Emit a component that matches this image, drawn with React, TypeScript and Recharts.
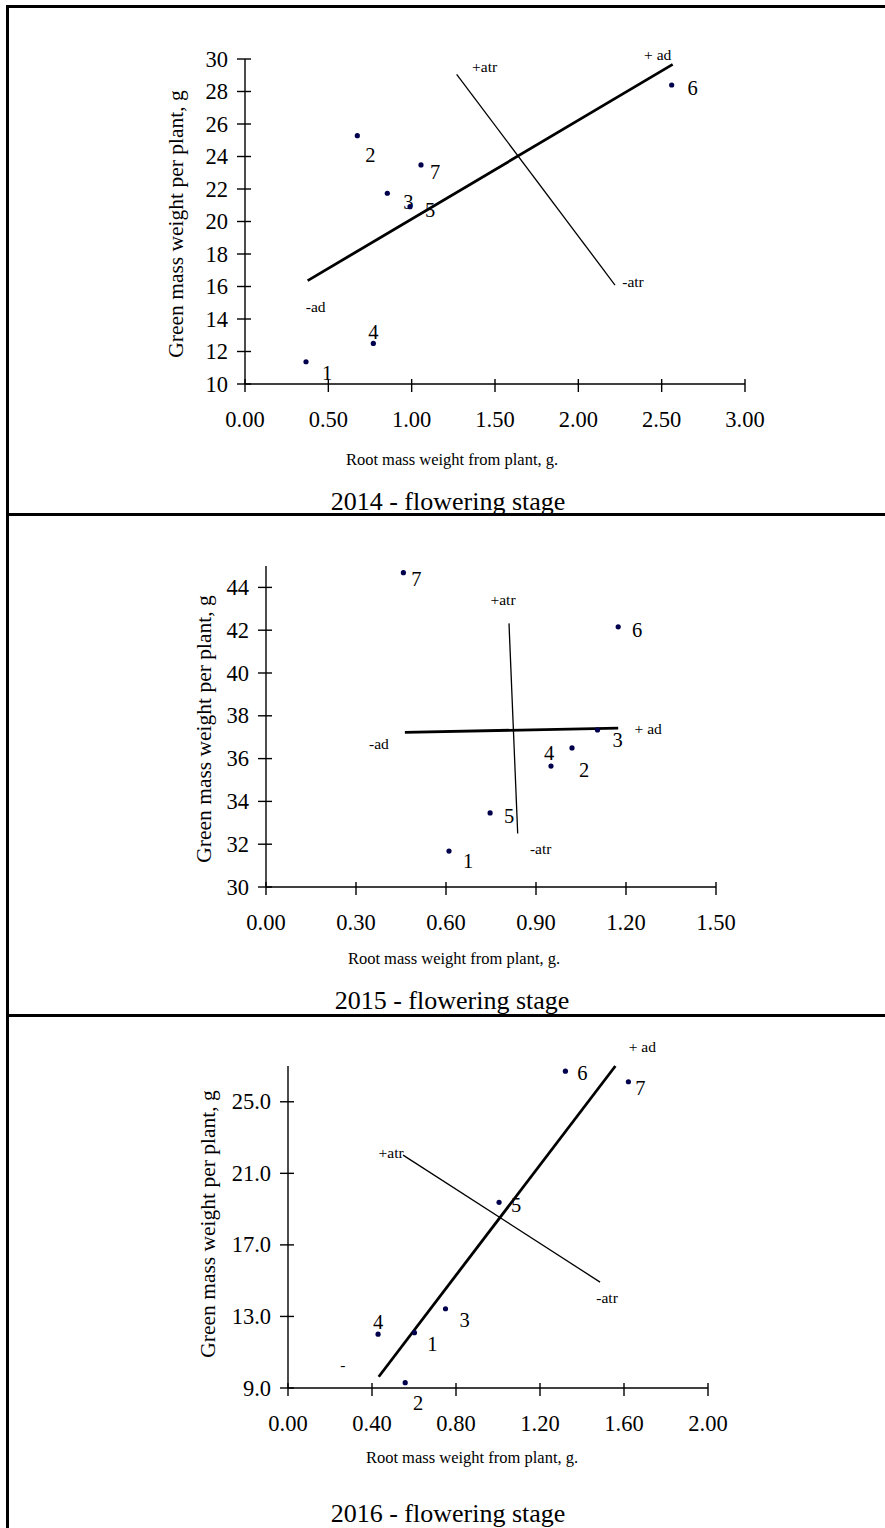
import React from 'react';
import { ScatterChart, Scatter, XAxis, YAxis } from 'recharts';

const FONT = "'Liberation Serif','Times New Roman',Times,serif";

// ---------- data ----------
const pointNames = ['1', '2', '3', '4', '5', '6', '7'];

// 2014
const x2014 = [0.366, 0.674, 0.854, 0.77, 0.99, 2.56, 1.056];
const y2014 = [11.37, 25.28, 21.74, 12.5, 20.91, 28.4, 23.48];
const ad2014 = [{ x: 0.376, y: 16.36, tag: '-ad' }, { x: 2.566, y: 29.67, tag: '+ ad' }];
const atr2014 = [{ x: 1.27, y: 29.06, tag: '+atr' }, { x: 2.22, y: 16.09, tag: '-atr' }];
const xTicks2014 = [0, 0.5, 1, 1.5, 2, 2.5, 3];
const yTicks2014 = [10, 12, 14, 16, 18, 20, 22, 24, 26, 28, 30];

// 2015
const x2015 = [0.61, 1.02, 1.105, 0.95, 0.747, 1.174, 0.458];
const y2015 = [31.68, 36.5, 37.34, 35.65, 33.46, 42.16, 44.69];
const ad2015 = [{ x: 0.463, y: 37.23, tag: '-ad' }, { x: 1.174, y: 37.42, tag: '+ ad' }];
const atr2015 = [{ x: 0.81, y: 42.32, tag: '+atr' }, { x: 0.839, y: 32.5, tag: '-atr' }];
const xTicks2015 = [0, 0.3, 0.6, 0.9, 1.2, 1.5];
const yTicks2015 = [30, 32, 34, 36, 38, 40, 42, 44];

// 2016
const x2016 = [0.602, 0.558, 0.75, 0.429, 1.005, 1.321, 1.621];
const y2016 = [12.09, 9.3, 13.43, 12.01, 19.38, 26.71, 26.12];
const ad2016 = [{ x: 0.432, y: 9.63, tag: '-' }, { x: 1.559, y: 27.0, tag: '+ ad' }];
const atr2016 = [{ x: 0.548, y: 22.02, tag: '+atr' }, { x: 1.486, y: 14.92, tag: '-atr' }];
const xTicks2016 = [0, 0.4, 0.8, 1.2, 1.6, 2.0];
const yTicks2016 = [9, 13, 17, 21, 25];

const xTitle = 'Root mass weight from plant, g.';
const yTitle = 'Green mass weight per plant, g';
const panelTitles = ['2014 - flowering stage', '2015 - flowering stage', '2016 - flowering stage'];

const build = (xs: number[], ys: number[]) => pointNames.map((n, i) => ({ name: n, x: xs[i], y: ys[i] }));

// ---------- styles (label offsets in px) ----------
const off2014: Record<string, [number, number]> = {
  '1': [21, 11], '2': [13, 19], '3': [21, 9], '4': [0, -11], '5': [20, 3], '6': [21, 3], '7': [14, 7],
};
const lineOff2014: Record<string, [number, number]> = {
  '-ad': [8, 26], '+ ad': [-15, -10], '+atr': [28, -8], '-atr': [18, -4],
};
const off2015: Record<string, [number, number]> = {
  '1': [19, 10], '2': [12, 22], '3': [20, 10], '4': [-2, -13], '5': [19, 3], '6': [19, 3], '7': [13, 6],
};
const lineOff2015: Record<string, [number, number]> = {
  '-ad': [-26, 11], '+ ad': [30, 0], '+atr': [-6, -24], '-atr': [23, 15],
};
const off2016: Record<string, [number, number]> = {
  '1': [18, 11], '2': [13, 20], '3': [19, 11], '4': [0, -12], '5': [17, 3], '6': [17, 2], '7': [12, 6],
};
const lineOff2016: Record<string, [number, number]> = {
  '-': [-36, -12], '+ ad': [27, -20], '+atr': [-12, -3], '-atr': [7, 15],
};

const X_AXIS_H = 40;
const Y_AXIS_W = 60;
const TICK_FONT = 22.5;

const makeXTick = (fmt: (v: number) => string) => (p: any) => (
  <g>
    <line x1={p.x} x2={p.x} y1={p.y - 5} y2={p.y + 8} stroke="#000" strokeWidth={1.4} />
    <text x={p.x} y={p.y + 35} textAnchor="middle" dominantBaseline="central" fontSize={TICK_FONT} fontFamily={FONT} fill="#000">
      {fmt(p.payload.value)}
    </text>
  </g>
);

const makeYTick = (fmt: (v: number) => string) => (p: any) => (
  <g>
    <line x1={p.x - 8} x2={p.x + 6} y1={p.y} y2={p.y} stroke="#000" strokeWidth={1.4} />
    <text x={p.x - 17} y={p.y} textAnchor="end" dominantBaseline="central" fontSize={TICK_FONT} fontFamily={FONT} fill="#000">
      {fmt(p.payload.value)}
    </text>
  </g>
);

const makeDot = (offsets: Record<string, [number, number]>) => (p: any) => {
  const o = offsets[p.payload.name] || [15, 5];
  return (
    <g>
      <circle cx={p.cx} cy={p.cy} r={2.6} fill="#00004d" />
      <text x={p.cx + o[0]} y={p.cy + o[1]} textAnchor="middle" dominantBaseline="central" fontSize={20.5} fontFamily={FONT} fill="#000">
        {p.payload.name}
      </text>
    </g>
  );
};

const makeEnd = (offsets: Record<string, [number, number]>) => (p: any) => {
  const o = offsets[p.payload.tag] || [0, 0];
  return (
    <text x={p.cx + o[0]} y={p.cy + o[1]} textAnchor="middle" dominantBaseline="central" fontSize={15.5} fontFamily={FONT} fill="#000">
      {p.payload.tag}
    </text>
  );
};

type PanelProps = {
  top: number;
  height: number;
  margin: { top: number; right: number; bottom: number; left: number };
  xDomain: [number, number];
  yDomain: [number, number];
  xTicks: number[];
  yTicks: number[];
  xFmt: (v: number) => string;
  yFmt: (v: number) => string;
  points: any[];
  offsets: Record<string, [number, number]>;
  ad: any[];
  atr: any[];
  lineOffsets: Record<string, [number, number]>;
};

function Panel(props: PanelProps) {
  const { top, height, margin, xDomain, yDomain, xTicks, yTicks, xFmt, yFmt, points, offsets, ad, atr, lineOffsets } = props;
  const m = { top: margin.top, right: margin.right, bottom: margin.bottom - X_AXIS_H, left: margin.left - Y_AXIS_W };
  return (
    <div style={{ position: 'absolute', left: 0, top, width: 885, height }}>
      <ScatterChart width={885} height={height} margin={m}>
        <XAxis
          type="number"
          dataKey="x"
          domain={xDomain}
          ticks={xTicks}
          interval={0}
          height={X_AXIS_H}
          tickSize={0}
          tickMargin={0}
          tickLine={false}
          axisLine={{ stroke: '#000', strokeWidth: 1.4 }}
          tick={makeXTick(xFmt)}
        />
        <YAxis
          type="number"
          dataKey="y"
          domain={yDomain}
          ticks={yTicks}
          interval={0}
          width={Y_AXIS_W}
          tickSize={0}
          tickMargin={0}
          tickLine={false}
          axisLine={{ stroke: '#000', strokeWidth: 1.4 }}
          tick={makeYTick(yFmt)}
        />
        <Scatter
          data={ad}
          isAnimationActive={false}
          fill="#000"
          line={{ stroke: '#000', strokeWidth: 2.8 }}
          lineType="joint"
          shape={makeEnd(lineOffsets)}
        />
        <Scatter
          data={atr}
          isAnimationActive={false}
          fill="#000"
          line={{ stroke: '#000', strokeWidth: 1.3 }}
          lineType="joint"
          shape={makeEnd(lineOffsets)}
        />
        <Scatter data={points} isAnimationActive={false} fill="#00004d" shape={makeDot(offsets)} />
      </ScatterChart>
    </div>
  );
}

const Txt = ({ x, y, size, rot, children }: { x: number; y: number; size: number; rot?: boolean; children: React.ReactNode }) => (
  <div
    style={{
      position: 'absolute',
      left: x,
      top: y,
      transform: `translate(-50%, -50%)${rot ? ' rotate(-90deg)' : ''}`,
      whiteSpace: 'nowrap',
      fontFamily: FONT,
      fontSize: size,
      lineHeight: 1,
      color: '#000',
    }}
  >
    {children}
  </div>
);

export default function App() {
  const f2 = (v: number) => v.toFixed(2);
  const f0 = (v: number) => v.toFixed(0);
  const f1 = (v: number) => v.toFixed(1);
  return (
    <div style={{ position: 'absolute', left: 0, top: 0, width: 885, height: 1528, background: '#fff', overflow: 'hidden' }}>
      <Panel
        top={0}
        height={514}
        margin={{ top: 59, right: 140, bottom: 130, left: 245 }}
        xDomain={[0, 3]}
        yDomain={[10, 30]}
        xTicks={xTicks2014}
        yTicks={yTicks2014}
        xFmt={f2}
        yFmt={f0}
        points={build(x2014, y2014)}
        offsets={off2014}
        ad={ad2014}
        atr={atr2014}
        lineOffsets={lineOff2014}
      />
      <Panel
        top={514}
        height={501}
        margin={{ top: 52, right: 169, bottom: 128, left: 266 }}
        xDomain={[0, 1.5]}
        yDomain={[30, 45]}
        xTicks={xTicks2015}
        yTicks={yTicks2015}
        xFmt={f2}
        yFmt={f0}
        points={build(x2015, y2015)}
        offsets={off2015}
        ad={ad2015}
        atr={atr2015}
        lineOffsets={lineOff2015}
      />
      <Panel
        top={1015}
        height={513}
        margin={{ top: 51, right: 177, bottom: 140, left: 288 }}
        xDomain={[0, 2]}
        yDomain={[9, 27]}
        xTicks={xTicks2016}
        yTicks={yTicks2016}
        xFmt={f2}
        yFmt={f1}
        points={build(x2016, y2016)}
        offsets={off2016}
        ad={ad2016}
        atr={atr2016}
        lineOffsets={lineOff2016}
      />

      <Txt x={452} y={460} size={16.5}>{xTitle}</Txt>
      <Txt x={177} y={224} size={21.5} rot>{yTitle}</Txt>
      <Txt x={448} y={502} size={26}>{panelTitles[0]}</Txt>

      <Txt x={454} y={959} size={16.5}>{xTitle}</Txt>
      <Txt x={205} y={729} size={21.5} rot>{yTitle}</Txt>
      <Txt x={452} y={1001} size={26}>{panelTitles[1]}</Txt>

      <Txt x={472} y={1458} size={16.5}>{xTitle}</Txt>
      <Txt x={209} y={1224} size={21.5} rot>{yTitle}</Txt>
      <Txt x={448} y={1514} size={26}>{panelTitles[2]}</Txt>

      {/* frame */}
      <div style={{ position: 'absolute', left: 6, top: 5, width: 879, height: 3, background: '#000' }} />
      <div style={{ position: 'absolute', left: 6, top: 5, width: 3, height: 1523, background: '#000' }} />
      <div style={{ position: 'absolute', left: 6, top: 513, width: 879, height: 3, background: '#000' }} />
      <div style={{ position: 'absolute', left: 6, top: 1014, width: 879, height: 3, background: '#000' }} />
    </div>
  );
}
